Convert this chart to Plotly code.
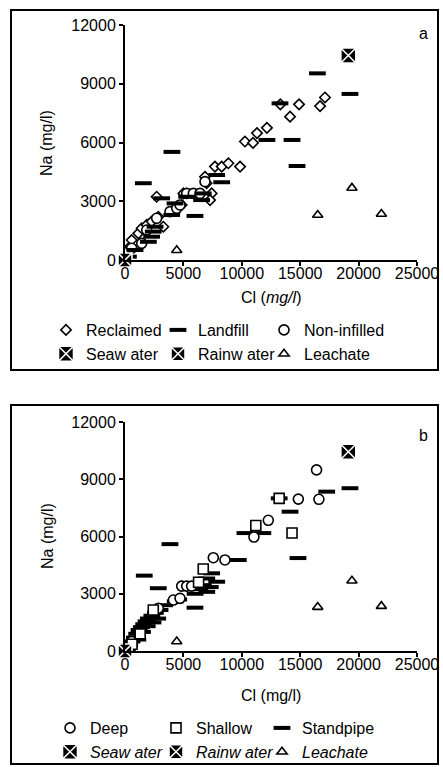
import plotly.graph_objects as go

W, H = 443, 767

# ---------------- Panel a data (Cl mg/l, Na mg/l) ----------------
recl_cl = [430, 570, 1140, 1430, 1855, 2280, 2850, 3280, 2710, 4140, 4850, 5000,
           6850, 6990, 7420, 7280, 7700, 8280, 8850, 9850, 10270, 10960, 11300,
           12150, 14130, 14900, 16700, 17120, 13300]
recl_na = [680, 1020, 1360, 1620, 1790, 1960, 2210, 1700, 3230, 2550, 2810, 3400,
           4250, 3920, 3400, 3060, 4770, 4770, 4940, 4770, 6050, 5980, 6480,
           6750, 7320, 7950, 7860, 8300, 7950]

land_cl = [290, 860, 2000, 2280, 2420, 2570, 1570, 3140, 4000, 4280, 5280, 5990,
           6560, 6700, 7850, 8280, 4020, 12150, 14300, 14730, 13270, 16470, 19260]
land_na = [170, 510, 930, 1190, 1450, 1700, 3920, 3150, 2300, 2890, 3230, 2250,
           3060, 3400, 4340, 3970, 5520, 6130, 6130, 4800, 8000, 9530, 8480]

noninf_cl = [570, 1430, 1860, 2710, 3850, 4430, 4710, 5280, 5850, 6420, 6850]
noninf_na = [600, 850, 1530, 2130, 2470, 2640, 2810, 3400, 3400, 3400, 4000]

# ---------------- Panel b data ----------------
deep_cl = [570, 2850, 4140, 4710, 4850, 5280, 5700, 7560, 8560, 11040, 12270,
           14840, 16600, 16400]
deep_na = [500, 2240, 2670, 2760, 3400, 3400, 3400, 4890, 4770, 5970, 6850,
           7960, 7950, 9490]

shal_cl = [600, 1300, 2420, 6700, 6300, 11200, 14300, 13200]
shal_na = [350, 900, 2150, 4300, 3600, 6580, 6180, 8000]

stand_cl = [200, 400, 600, 800, 1000, 1200, 1400, 1600, 1800, 2000, 2300, 2600,
            3000, 3400, 1650, 2850, 3850, 5990, 6000, 6400, 6700, 7000, 7300,
            7420, 7850, 7000, 9700, 10270, 11800, 13200, 14130, 14810, 17270,
            19260, 4300, 4600, 1100, 1500, 1900, 2400, 2800]
stand_na = [100, 300, 500, 700, 900, 1100, 1250, 1400, 1550, 1700, 1850, 2000,
            2150, 2400, 3950, 3290, 5600, 2270, 3000, 3250, 3450, 3100, 3350,
            4070, 3630, 3800, 4770, 6180, 6180, 8000, 7300, 4870, 8350,
            8530, 2600, 2700, 600, 1000, 1300, 1500, 1700]

# ---------------- shared reference samples ----------------
sea_cl, sea_na = [19120], [10440]
rain_cl, rain_na = [0], [0]
leach_cl = [4430, 16500, 19430, 21950]
leach_na = [500, 2300, 3680, 2350]

x_ticks = [0, 5000, 10000, 15000, 20000, 25000]
y_ticks = [0, 3000, 6000, 9000, 12000]

FONT = "Liberation Sans, Arial, sans-serif"
BLK = "black"

fig = go.Figure()


def add(x, y, name, symbol, size, axis, legend, rank, fill="white", lw=1.6, lcol=BLK):
    xa, ya = axis
    fig.add_trace(go.Scatter(
        x=x, y=y, mode="markers", name=name, xaxis=xa, yaxis=ya,
        legend=legend, legendrank=rank, cliponaxis=False,
        marker=dict(symbol=symbol, size=size, color=fill,
                    line=dict(color=lcol, width=lw)),
    ))


A = ("x", "y")
B = ("x2", "y2")

# Panel a  (legend columns: legend/legend2/legend3)
add(recl_cl, recl_na, "Reclaimed", "diamond", 8, A, "legend", 1)
add(noninf_cl, noninf_na, "Non-infilled", "circle", 10, A, "legend3", 1)
add(land_cl, land_na, "Landfill", "line-ew", 12, A, "legend2", 1, fill=BLK, lw=4)
add(sea_cl, sea_na, "Seaw ater", "square-x", 15, A, "legend", 2, fill=BLK, lw=1.6, lcol="white")
add(rain_cl, rain_na, "Rainw ater", "square-x", 14, A, "legend2", 2, fill=BLK, lw=1.6, lcol="white")
add(leach_cl, leach_na, "Leachate", "triangle-up", 9, A, "legend3", 2)

# Panel b  (legend columns: legend4/legend5/legend6)
add(stand_cl, stand_na, "Standpipe", "line-ew", 12, B, "legend6", 1, fill=BLK, lw=4)
add(deep_cl, deep_na, "Deep", "circle", 10, B, "legend4", 1)
add(shal_cl, shal_na, "Shallow", "square", 10, B, "legend5", 1)
add(sea_cl, sea_na, "<i>Seaw ater</i>", "square-x", 15, B, "legend4", 2, fill=BLK, lw=1.6, lcol="white")
add(rain_cl, rain_na, "<i>Rainw ater</i>", "square-x", 14, B, "legend5", 2, fill=BLK, lw=1.6, lcol="white")
add(leach_cl, leach_na, "<i>Leachate</i>", "triangle-up", 9, B, "legend6", 2)


def px(x):
    return x / W


def py(y):
    return 1 - y / H


xdom = [px(125), px(417)]
axis_common = dict(showline=True, linecolor=BLK, linewidth=2, ticks="outside",
                   ticklen=4, tickwidth=1.5, tickcolor=BLK, showgrid=False,
                   zeroline=False, tickformat="d", automargin=False,
                   tickfont=dict(family=FONT, size=16, color=BLK))

fig.update_layout(
    width=W, height=H, margin=dict(l=0, r=0, t=0, b=0, autoexpand=False),
    paper_bgcolor="white", plot_bgcolor="white",
    font=dict(family=FONT, size=16, color=BLK),
    xaxis=dict(domain=xdom, range=[0, 25000], tickvals=x_ticks, anchor="y",
               ticklabelstandoff=-6, **axis_common),
    yaxis=dict(domain=[py(260), py(25)], range=[0, 12000], tickvals=y_ticks, anchor="x", **axis_common),
    xaxis2=dict(domain=xdom, range=[0, 25000], tickvals=x_ticks, anchor="y2",
                ticklabelstandoff=-6, **axis_common),
    yaxis2=dict(domain=[py(651), py(422)], range=[0, 12000], tickvals=y_ticks, anchor="x2", **axis_common),
)

# legends: one vertical legend per column (symbol centre ~22 px right of legend x)
leg_common = dict(orientation="v", xanchor="left", yanchor="middle", bgcolor="rgba(0,0,0,0)",
                  itemwidth=30, font=dict(family=FONT, size=16, color=BLK),
                  traceorder="normal", tracegroupgap=0)
OFF = 24
fig.update_layout(
    legend=dict(x=px(70 - OFF), y=py(342), **leg_common),
    legend2=dict(x=px(182 - OFF), y=py(342), **leg_common),
    legend3=dict(x=px(288 - OFF), y=py(342), **leg_common),
    legend4=dict(x=px(74 - OFF), y=py(740), **leg_common),
    legend5=dict(x=px(180 - OFF), y=py(740), **leg_common),
    legend6=dict(x=px(286 - OFF), y=py(740), **leg_common),
)

# panel frames
for y0, y1 in [(10, 370), (405, 764)]:
    fig.add_shape(type="rect", xref="paper", yref="paper",
                  x0=px(11), x1=px(438), y0=py(y1), y1=py(y0),
                  line=dict(color=BLK, width=2), fillcolor="rgba(0,0,0,0)")

ann = [
    dict(x=px(271), y=py(297), text="Cl (<i>mg/l</i>)", textangle=0),
    dict(x=px(271), y=py(695), text="Cl (mg/l)", textangle=0),
    dict(x=px(47), y=py(143), text="Na (mg/l)", textangle=-90),
    dict(x=px(47), y=py(536), text="Na (mg/l)", textangle=-90),
    dict(x=px(423), y=py(33), text="a", textangle=0),
    dict(x=px(423), y=py(435), text="b", textangle=0),
]
for a in ann:
    fig.add_annotation(xref="paper", yref="paper", showarrow=False,
                       xanchor="center", yanchor="middle",
                       font=dict(family=FONT, size=16, color=BLK), **a)

fig.write_html("out.html")
